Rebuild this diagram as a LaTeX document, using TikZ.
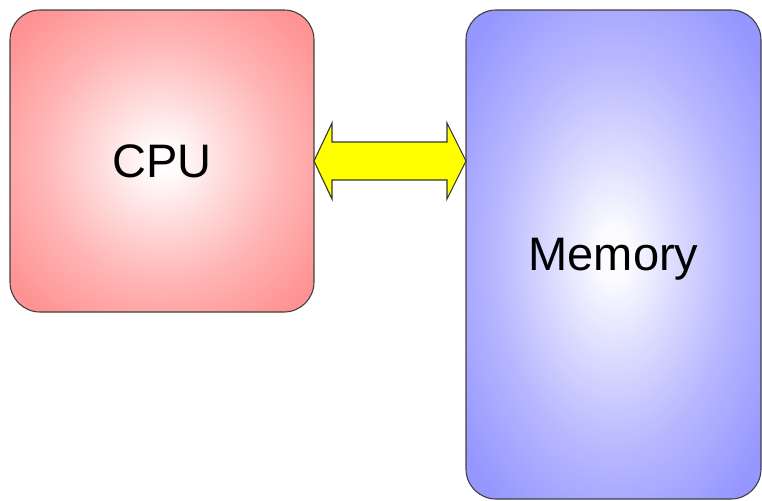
\documentclass[tikz,border=0pt]{standalone}
\usepackage{fontspec}
\setmainfont{Liberation Sans}
\usepackage{tikz}
\usetikzlibrary{calc}
\definecolor{cpupink}{RGB}{255,146,146}
\definecolor{memblue}{RGB}{150,150,255}
\definecolor{busyellow}{RGB}{255,255,0}
\pgfdeclareradialshading{cpuglow}{\pgfpointorigin}{color(0bp)=(white); color(3bp)=(white!95!cpupink); color(10bp)=(white!68!cpupink); color(20bp)=(white!32!cpupink); color(32bp)=(cpupink); color(50bp)=(cpupink)}
\pgfdeclareradialshading{memglow}{\pgfpointorigin}{color(0bp)=(white); color(3bp)=(white!95!memblue); color(10bp)=(white!68!memblue); color(20bp)=(white!32!memblue); color(32bp)=(memblue); color(50bp)=(memblue)}
\tikzset{unit/.style={draw=black!75,line width=0.55pt,rounded corners=15pt,inner sep=0pt,outer sep=0pt,text depth=0pt,font=\fontsize{23.5}{28}\selectfont},
bus/.style={draw=black!80,fill=busyellow,line width=0.55pt,line join=miter}}

\begin{document}
\begin{tikzpicture}[x=0.5pt,y=-0.5pt]
\useasboundingbox (0,0) rectangle (762,500);
\node[unit,shading=cpuglow,minimum width=152pt,minimum height=151pt](cpu) at (162,161){CPU};
\node[unit,shading=memglow,minimum width=147.5pt,minimum height=244.5pt](mem) at (613.5,254.5){Memory};
\coordinate (tipr) at (mem.west |- cpu.east);
\draw[bus](cpu.east)--++(18,-38)--++(0,19)--($(tipr)+(-19,-19)$)--++(0,-19)--(tipr)--++(-19,38)--++(0,-19)--($(cpu.east)+(18,19)$)--++(0,19)--cycle;
\end{tikzpicture}
\end{document}
